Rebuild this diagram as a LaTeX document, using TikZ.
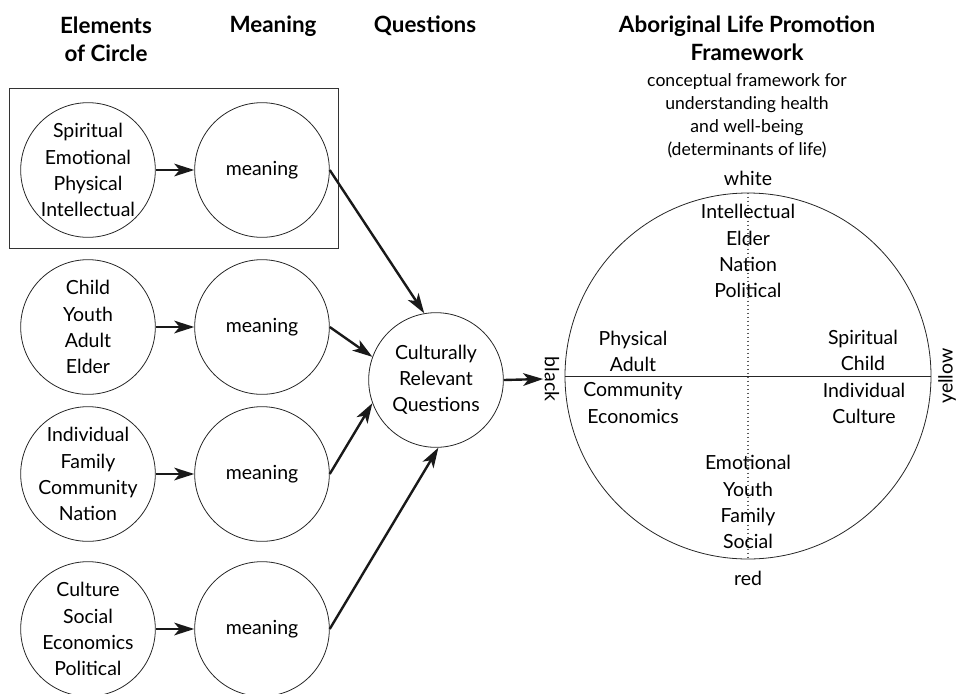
\documentclass[tikz,border=0pt]{standalone}
\usepackage{fontspec}
\setmainfont{Lato}
\usetikzlibrary{arrows.meta}

\begin{document}
\begin{tikzpicture}[x=0.75pt,y=-0.75pt,
    circ/.style={circle,draw=black!85,line width=0.6pt,minimum size=101pt,inner sep=0pt},
    lines/.style={align=center,font=\fontsize{14.6}{19.6}\selectfont},
    head/.style={align=center,font=\fontsize{16.8}{21}\selectfont\bfseries},
    arr/.style={-{Stealth[length=15pt,width=9.5pt,inset=4pt]},line width=1.8pt,black!90}]

    \useasboundingbox (0,0) rectangle (956,693);

    % Headers
    \node[head] (hElem) at (106,39) {Elements\\of Circle};
    \node[head,anchor=base] (hMean) at (273,32) {Meaning};
    \node[head,anchor=base] (hQues) at (425,32) {Questions};
    \node[head] (hALP) at (747,38) {Aboriginal Life Promotion\\Framework};
    \node[align=center,font=\fontsize{13.2}{17.4}\selectfont] (hSub) at (747,116)
        {conceptual framework for\\understanding health\\and well-being\\(determinants of life)};

    % Elements of circle and their meaning
    \draw[line width=0.7pt,black!80] (9,88) rectangle (338,248);
    \node[circ,label={[lines]center:Spiritual\\Emotional\\Physical\\Intellectual}] (e1) at (88,170) {};
    \node[circ,label={[lines]center:Child\\Youth\\Adult\\Elder}] (e2) at (88,327) {};
    \node[circ,label={[lines]center:Individual\\Family\\Community\\Nation}] (e3) at (88,474) {};
    \node[circ,label={[lines]center:Culture\\Social\\Economics\\Political}] (e4) at (88,629) {};
    \foreach \i/\y in {1/170,2/327,3/474,4/629}
        \node[circ,label={[lines]center:meaning}] (m\i) at (262,\y) {};
    \foreach \i in {1,...,4}
        \draw[arr] (e\i) -- (m\i);

    % Questions
    \node[circ,label={[lines]center:Culturally\\Relevant\\Questions}] (q) at (436,380) {};
    \draw[arr] (m1.east) -- (q.100);
    \draw[arr] (m2.east) -- (q.160);
    \draw[arr] (m3.east) -- (q.200);
    \draw[arr] (m4.east) -- (q.-88);

    % Framework circle
    \node[circle,draw=black!85,line width=0.6pt,minimum size=274.5pt,inner sep=0pt] (alp) at (748,376) {};
    \draw[line width=0.6pt,black!85] (alp.west) -- (alp.east);
    \draw[dotted,line width=1pt,black!65] (alp.north) -- (alp.south);

    \node[lines,anchor=base] (cWhite) at (748,185) {white};
    \node[lines,anchor=base] (cRed) at (748,585) {red};
    \node[lines,rotate=-90,inner sep=1pt] (cBlack) at (552,379) {black};
    \node[lines,rotate=90] (cYellow) at (947,376) {yellow};
    \draw[arr] (q.east) -- (cBlack.south);

    \node[lines] (tN) at (748,251) {Intellectual\\Elder\\Nation\\Political};
    \node[lines] (tS) at (748,502) {Emotional\\Youth\\Family\\Social};
    \node[lines] (tWu) at (633,351) {Physical\\Adult};
    \node[lines] (tWl) at (633,403) {Community\\Economics};
    \node[lines] (tEu) at (863,350) {Spiritual\\Child};
    \node[lines] (tEl) at (864,403) {Individual\\Culture};
\end{tikzpicture}
\end{document}
